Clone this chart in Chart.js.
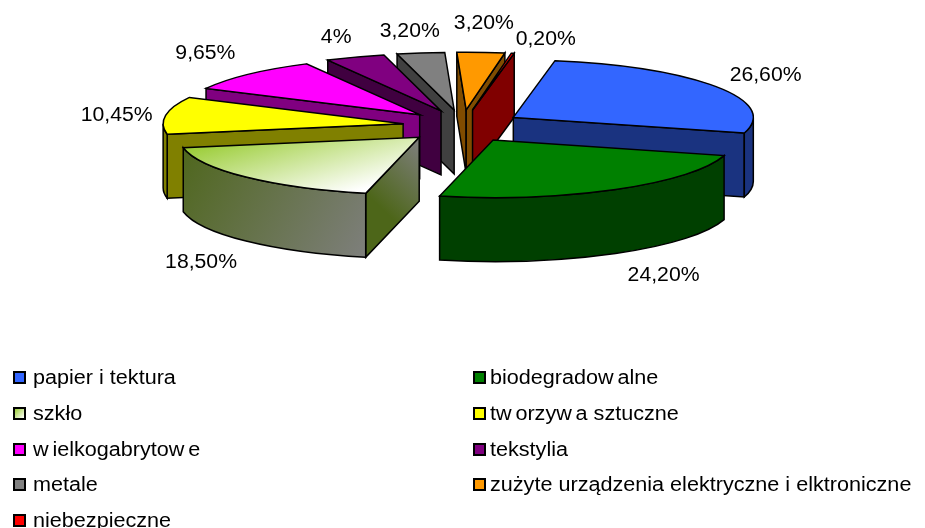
<!DOCTYPE html>
<html>
<head>
<meta charset="utf-8">
<style>
  body { margin: 0; background: #fff; }
  #wrap { position: relative; width: 925px; height: 528px; overflow: hidden; }
  canvas { position: absolute; left: 0; top: 0; }
  .box { position: absolute; width: 9px; height: 9px; border: 2px solid #000; }
  .txt { position: absolute; line-height: 20px; font: 20px "Liberation Sans", Arial, sans-serif; color: #000; white-space: nowrap; transform: scaleX(1.08); transform-origin: left center; }
  .w { margin-right: 3.5px; }
</style>
<script src="https://cdn.jsdelivr.net/npm/chart.js@4"></script>
</head>
<body>
<div id="wrap">
  <canvas id="myChart" width="925" height="528"></canvas>
  <div id="legend"></div>
</div>
<script>
const categories = ["papier i tektura", "biodegradowalne", "szkło", "tworzywa sztuczne", "wielkogabrytowe", "tekstylia", "metale", "zużyte urządzenia elektryczne i elktroniczne", "niebezpieczne"];
const shares = [26.6, 24.2, 18.5, 10.45, 9.65, 4, 3.2, 3.2, 0.2];
const shareLabels = ["26,60%", "24,20%", "18,50%", "10,45%", "9,65%", "4%", "3,20%", "3,20%", "0,20%"];
const topColors = ["#3366ff", "#008000", "#d9ebb8", "#ffff00", "#ff00ff", "#800080", "#808080", "#ff9900", "#ff0000"];
const wallColors = ["#1a3380", "#004000", "#6c7a50", "#808000", "#800080", "#400040", "#404040", "#804c00", "#800000"];

// look of the tilted pie
const tilt = 0.24, depth = 64, explode = 60, explodeTilt = 0.27;
// back to front
const drawOrder = [6, 7, 8, 5, 4, 3, 0, 2, 1];
// how far each percent label sits from the rim of its slice
const labelNudge = [[49, -12], [48, 88], [-45, 87], [-49, 0], [-43, -22], [-19, -21], [-11, -23], [3, -31], [33, -16]];
const glassIndex = 2;

// the top face is filled with the y squash active, so a gradient that looks
// straight on screen has to be worked back into the arc's own coordinates
function glassGradient(ctx, arc, cx, cy) {
  const sx = 190, sy = 146, ex = 215, ey = 232;
  const dx = ex - sx, dy = ey - sy, len2 = dx * dx + dy * dy;
  const vx = dx / len2, vy = dy * tilt / len2;
  const v2 = vx * vx + vy * vy;
  const x0 = sx - cx + arc.x, y0 = (sy - cy) / tilt + arc.y;
  const g = ctx.createLinearGradient(x0, y0, x0 + vx / v2, y0 + vy / v2);
  g.addColorStop(0, "#99cc33");
  g.addColorStop(1, "#ffffff");
  return g;
}

const pie3d = {
  id: "pie3d",
  beforeDatasetDraw(chart, args) {
    const ctx = chart.ctx;
    const arcs = args.meta.data;
    ctx.save();
    ctx.lineWidth = 1.5;
    ctx.strokeStyle = "#000";
    ctx.lineJoin = "miter";
    drawOrder.forEach((i) => {
      const arc = arcs[i];
      const r = arc.outerRadius;
      const a0 = arc.startAngle, a1 = arc.endAngle;
      const mid = (a0 + a1) / 2;
      const cx = arc.x + Math.cos(mid) * explode;
      const cy = arc.y + Math.sin(mid) * explode * explodeTilt;

      const wallFill = (x0, y0, x1, y1) => {
        if (i !== glassIndex) return wallColors[i];
        const g = ctx.createLinearGradient(x0, y0, x1, y1);
        g.addColorStop(0, "#4d6619");
        g.addColorStop(1, "#808080");
        return g;
      };
      const side = (a) => {
        const px = cx + Math.cos(a) * r, py = cy + Math.sin(a) * r * tilt;
        ctx.beginPath();
        ctx.moveTo(cx, cy);
        ctx.lineTo(px, py);
        ctx.lineTo(px, py + depth);
        ctx.lineTo(cx, cy + depth);
        ctx.closePath();
        ctx.fillStyle = wallFill(px, py, cx, cy);
        ctx.fill();
        ctx.stroke();
      };
      // start edge shows when it lies on the left half, end edge on the right half
      if (Math.cos(a0) < 0) side(a0);
      if (Math.cos(a1) > 0) side(a1);

      // rim wall, only the part on the near side of the ellipse
      const from = Math.max(a0, 0), to = Math.min(a1, Math.PI);
      if (to > from) {
        ctx.beginPath();
        ctx.ellipse(cx, cy, r, r * tilt, 0, from, to);
        ctx.ellipse(cx, cy + depth, r, r * tilt, 0, to, from, true);
        ctx.closePath();
        ctx.fillStyle = wallFill(cx - r, cy, cx - 40, cy + depth + 50);
        ctx.fill();
        ctx.stroke();
      }

      // top face goes through the library's own arc element
      if (i === glassIndex) {
        arc.options = Object.assign({}, arc.options, { backgroundColor: glassGradient(ctx, arc, cx, cy) });
      }
      ctx.save();
      ctx.translate(cx, cy);
      ctx.scale(1, tilt);
      ctx.translate(-arc.x, -arc.y);
      arc.draw(ctx);
      ctx.restore();
      ctx.beginPath();
      ctx.moveTo(cx, cy);
      ctx.ellipse(cx, cy, r, r * tilt, 0, a0, a1);
      ctx.closePath();
      ctx.stroke();
    });

    // percent labels
    ctx.fillStyle = "#000";
    ctx.textAlign = "center";
    ctx.textBaseline = "middle";
    ctx.font = '20px "Liberation Sans", Arial, sans-serif';
    arcs.forEach((arc, i) => {
      const mid = (arc.startAngle + arc.endAngle) / 2;
      const lx = arc.x + Math.cos(mid) * (arc.outerRadius + explode) + labelNudge[i][0];
      const ly = arc.y + Math.sin(mid) * (arc.outerRadius + explode) * tilt + labelNudge[i][1];
      ctx.save();
      ctx.translate(lx, ly);
      ctx.scale(1.06, 1);
      ctx.fillText(shareLabels[i], 0, 0);
      ctx.restore();
    });
    ctx.restore();
    return false;
  }
};

const chart = new Chart(document.getElementById("myChart"), {
  type: "pie",
  data: {
    labels: categories,
    datasets: [{
      data: shares,
      radius: 240,
      borderWidth: 0,
      backgroundColor: topColors
    }]
  },
  options: {
    responsive: false,
    animation: false,
    rotation: 10,
    layout: { padding: { bottom: 276 } },
    plugins: { legend: { display: false }, tooltip: { enabled: false } }
  },
  plugins: [pie3d]
});

// legend in two columns, filled row by row
const legend = document.getElementById("legend");
categories.forEach((name, i) => {
  const col = i % 2, row = Math.floor(i / 2);
  const top = 377 + row * 35.8;
  const box = document.createElement("div");
  box.className = "box";
  box.style.left = (col ? 473 : 13) + "px";
  box.style.top = (top - 6) + "px";
  box.style.background = i === glassIndex ? "linear-gradient(135deg,#99cc33,#ffffff)" : topColors[i];
  legend.append(box);
  const t = document.createElement("div");
  t.className = "txt";
  t.innerHTML = name.replace(/w/g, '<span class="w">w</span>');
  t.style.left = (col ? 490 : 33) + "px";
  t.style.top = (top - 11) + "px";
  legend.append(t);
});
</script>
</body>
</html>
